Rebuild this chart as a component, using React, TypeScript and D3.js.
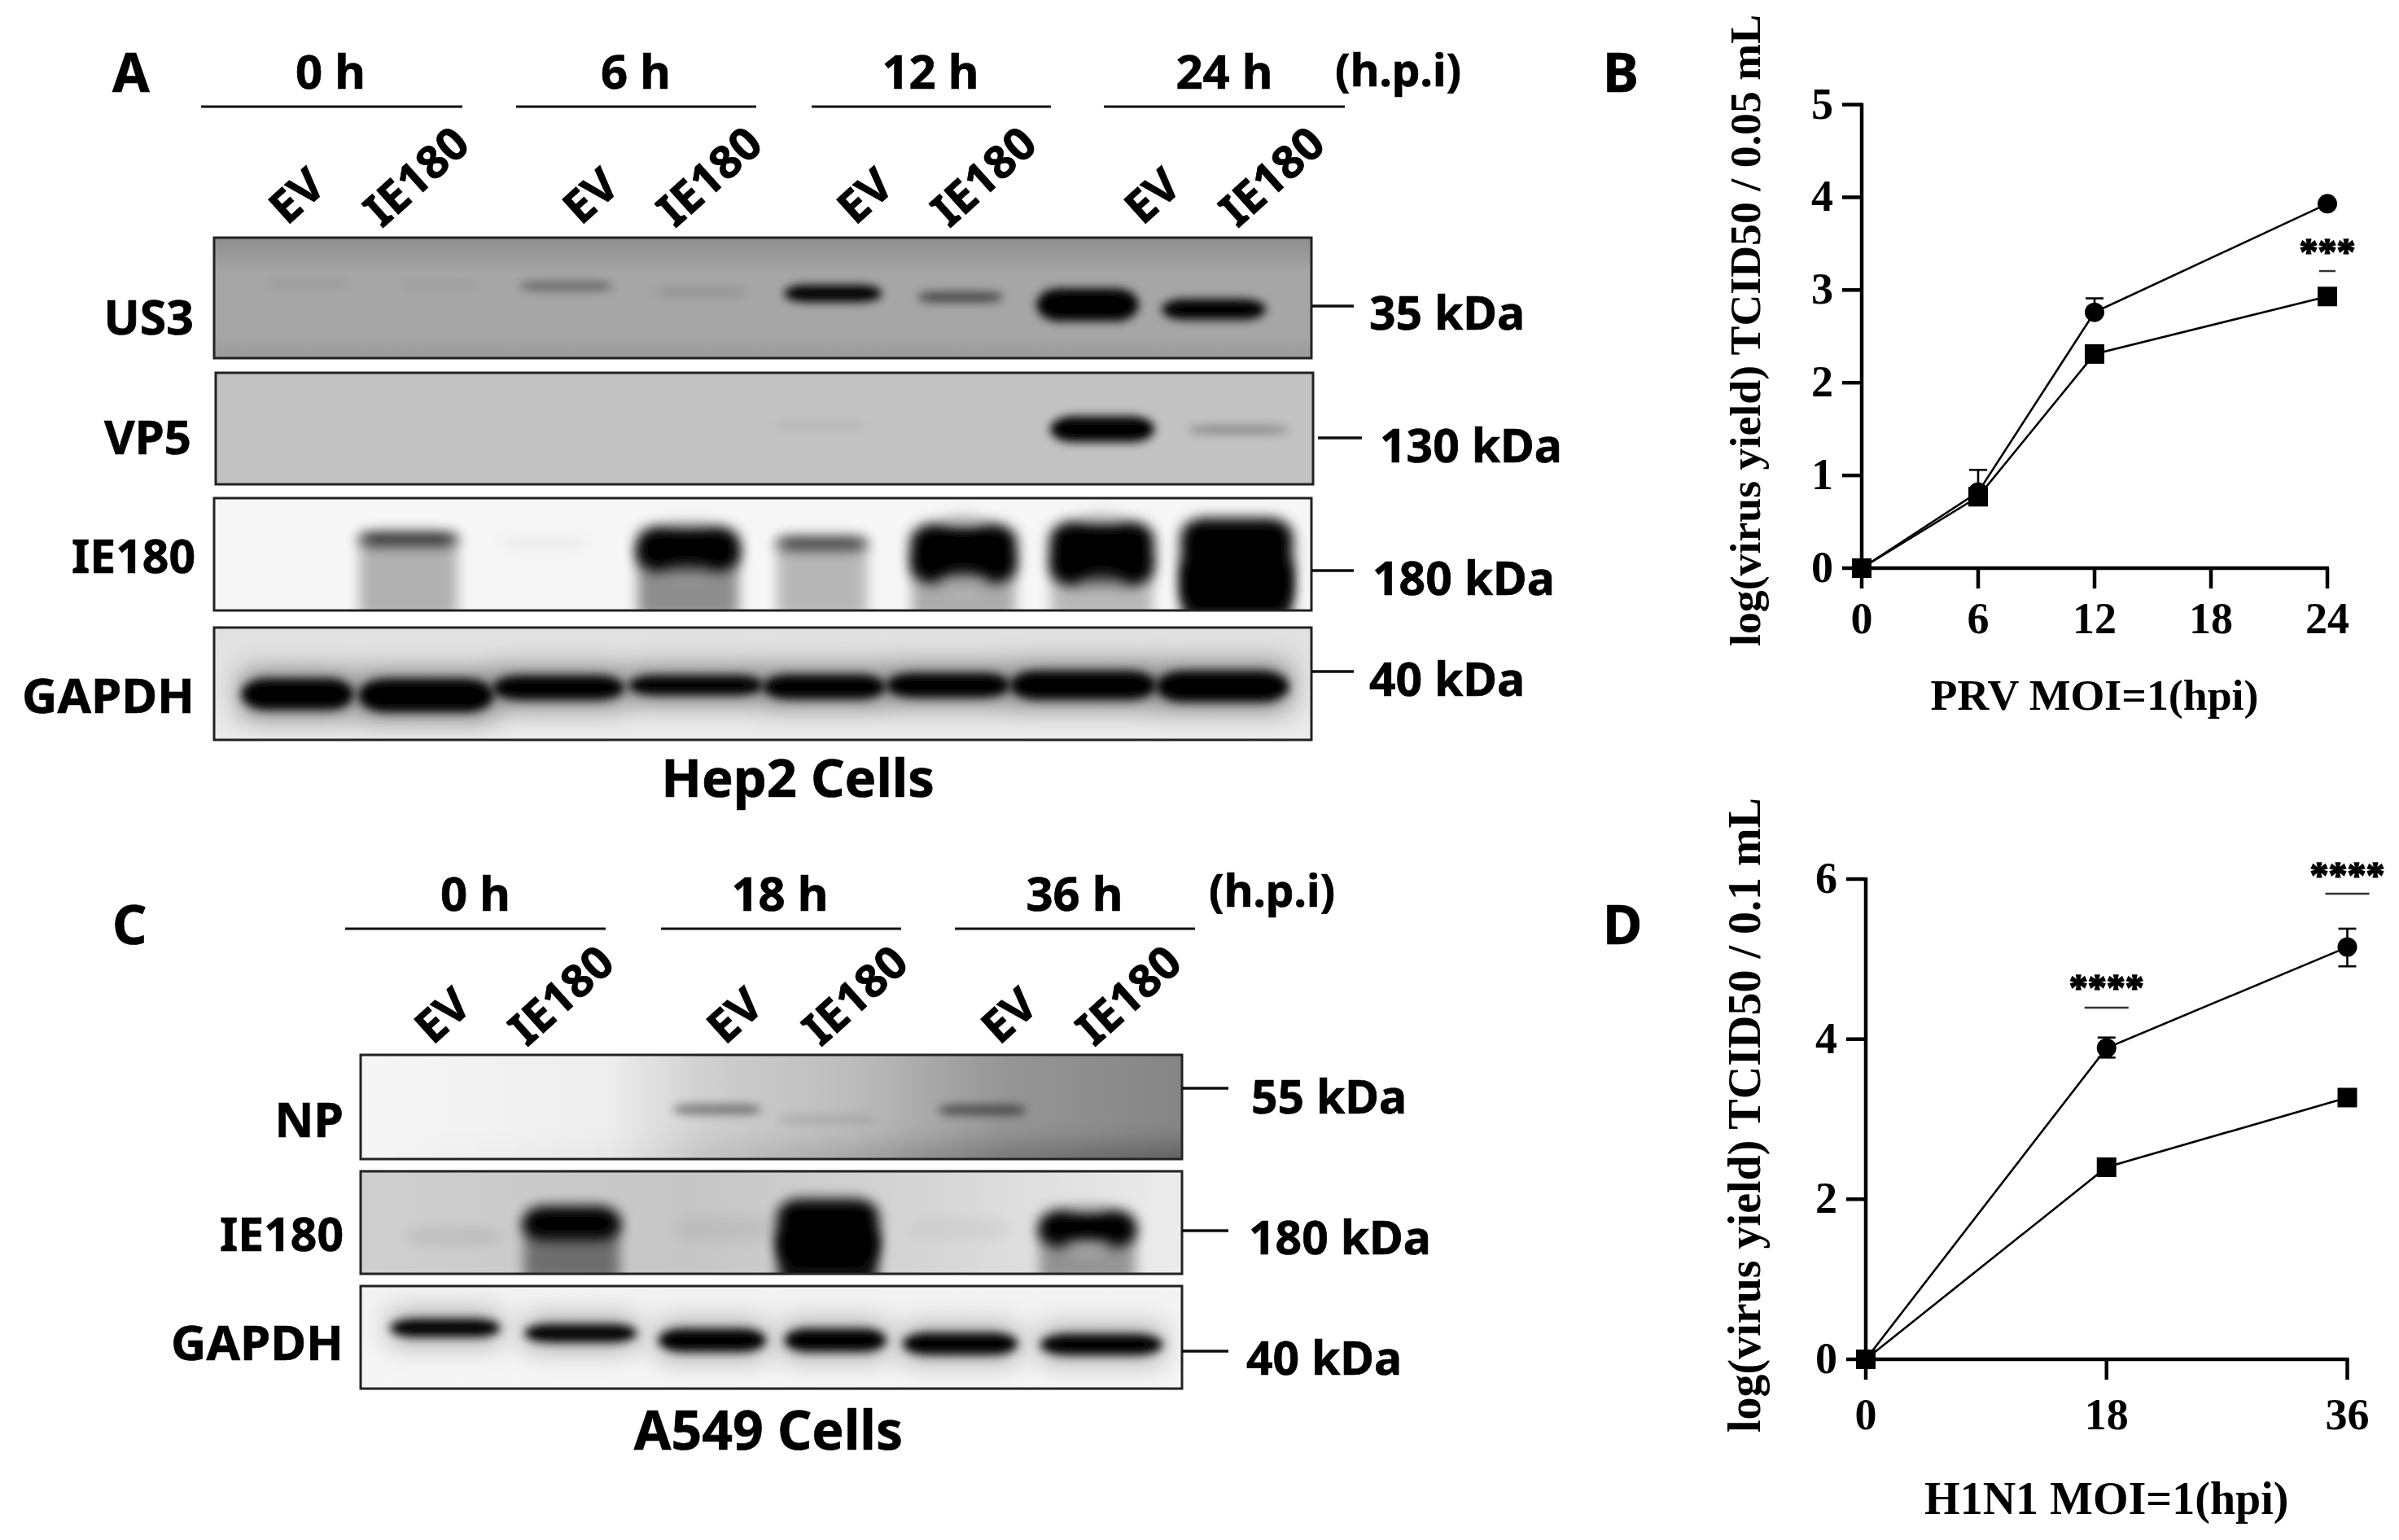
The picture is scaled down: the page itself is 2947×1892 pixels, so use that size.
import React from 'react';
import * as d3 from 'd3';

const laneNames = ['EV', 'IE180'];
const hoursA = ['0 h', '6 h', '12 h', '24 h'];
const hoursC = ['0 h', '18 h', '36 h'];
const hpiLabel = '(h.p.i)';

const us3Lane = [8.5, 20.4, 32.1, 44.4, 56.4, 68.0, 79.6, 91.1];
const us3Breadth = [7.8, 7.3, 8.5, 8.5, 8.9, 7.8, 9.3, 9.5];
const us3Migration = [38.2, 39.2, 40.2, 45.3, 46.3, 49.3, 55.7, 59.5];
const us3Thickness = [5, 5, 7, 6, 14, 8, 27, 17];
const us3Signal = [0.08, 0.06, 0.4, 0.13, 1, 0.6, 1, 1];

const vp5Lane = [55.1, 80.8, 93.2];
const vp5Breadth = [8.5, 9.5, 9.2];
const vp5Migration = [47, 50.5, 51];
const vp5Thickness = [4, 23, 7];
const vp5Signal = [0.09, 1, 0.3];

const ie180ALane = [17.7, 30.1, 43.2, 55.4, 68.3, 80.9, 93.2];
const ie180ABreadth = [9.2, 8.5, 9.5, 8.5, 9.7, 9.5, 10.2];
const ie180AMigration = [36.2, 40, 45.1, 40, 49.3, 49.3, 58.7];
const ie180AThickness = [12, 9, 40, 12, 53, 57, 82];
const ie180ASignal = [0.85, 0.05, 1, 0.75, 1, 1, 1];
const ie180ASmear = [0.28, 0, 0.42, 0.25, 0.3, 0.25, 0.95];
const ie180ANotch = [0, 0, 0.3, 0, 0.7, 0.45, 0];

const gapdhALane = [7.6, 19.3, 31.4, 43.9, 55.6, 66.9, 79.2, 91.9];
const gapdhABreadth = [10.2, 12.3, 12, 12.3, 11.2, 11.3, 13.3, 12.1];
const gapdhAMigration = [59.4, 60.5, 53.6, 51.4, 52.9, 51.4, 51.4, 52.5];
const gapdhAThickness = [27, 29, 21, 17, 21, 21, 25, 27];
const gapdhASignal = [1, 1, 1, 1, 1, 1, 1, 1];

const npLane = [43.4, 56.7, 75.7];
const npBreadth = [10.8, 12, 10.8];
const npMigration = [52.3, 62, 53];
const npThickness = [9, 9, 9];
const npSignal = [0.45, 0.1, 0.55];

const ie180CLane = [11.4, 25.7, 44.3, 56.9, 73, 88.5];
const ie180CBreadth = [11.6, 12, 12, 12.4, 12, 12];
const ie180CMigration = [63.5, 50.4, 56, 59.5, 56, 55.6];
const ie180CThickness = [16, 33, 24, 65, 19, 36];
const ie180CSignal = [0.07, 1, 0.05, 1, 0.04, 1];
const ie180CSmear = [0, 0.45, 0, 0.95, 0, 0.35];
const ie180CNotch = [0, 0, 0, 0, 0, 0.75];

const gapdhCLane = [10.3, 26.8, 42.8, 57.8, 73, 90.2];
const gapdhCBreadth = [13.4, 13.7, 13.1, 12.4, 14, 14.9];
const gapdhCMigration = [40.9, 46, 52.8, 52.8, 56.3, 57];
const gapdhCThickness = [17, 17, 22, 22, 21, 20];
const gapdhCSignal = [1, 1, 1, 1, 1, 1];

// ---------- Growth curve data
const prvHours = [0, 6, 12, 24];
const prvXTicks = [0, 6, 12, 18, 24];
const prvYTicks = [0, 1, 2, 3, 4, 5];
const prvCircle = [0, 0.82, 2.76, 3.93];
const prvCircleUpper = [0, 1.06, 2.91, 3.93];
const prvCircleLower = [0, 0.82, 2.76, 3.93];
const prvSquare = [0, 0.77, 2.31, 2.93];

const h1n1Hours = [0, 18, 36];
const h1n1XTicks = [0, 18, 36];
const h1n1YTicks = [0, 2, 4, 6];
const h1n1Circle = [0, 3.89, 5.15];
const h1n1CircleUpper = [0, 4.02, 5.38];
const h1n1CircleLower = [0, 3.77, 4.91];
const h1n1Square = [0, 2.4, 3.27];

const SANS = '"Noto Sans", sans-serif';
const SERIF = '"Liberation Serif", serif';

type Box = { x: number; y: number; w: number; h: number };

function Blot({ id, box, bg, lane, breadth, migration, thickness, signal, smear, notch, notchFill = '#e8e8e8', halo = 0, sd = 4 }: any) {
  const x = d3.scaleLinear().domain([0, 100]).range([box.x, box.x + box.w]);
  const y = d3.scaleLinear().domain([0, 100]).range([box.y, box.y + box.h]);
  const wScale = d3.scaleLinear().domain([0, 100]).range([0, box.w]);
  const hScale = d3.scaleLinear().domain([0, 100]).range([0, box.h]);
  return (
    <g>
      <clipPath id={id}>
        <rect x={box.x} y={box.y} width={box.w} height={box.h} />
      </clipPath>
      <g clipPath={`url(#${id})`}>
        {bg}
        {halo > 0 &&
          lane.map((l: number, i: number) => (
            <rect key={'h' + i} x={x(l) - wScale(breadth[i]) / 2} y={y(migration[i]) - hScale(thickness[i]) / 2 - 8}
              width={wScale(breadth[i])} height={hScale(thickness[i]) + 16} fill="#000" opacity={halo} filter="url(#blurL)" />
          ))}
        {smear &&
          lane.map((l: number, i: number) =>
            smear[i] > 0 ? (
              <rect key={'s' + i} x={x(l) - wScale(breadth[i]) / 2 + 2} y={y(migration[i])} width={wScale(breadth[i]) - 4}
                height={box.y + box.h - y(migration[i]) + 10} fill="#000" opacity={smear[i]} filter="url(#blurM)" />
            ) : null,
          )}
        {lane.map((l: number, i: number) => {
          const th = hScale(thickness[i]);
          const w = wScale(breadth[i]);
          return (
            <rect key={i} x={x(l) - w / 2} y={y(migration[i]) - th / 2} width={w} height={th}
              rx={Math.min(w * 0.22, 34)} ry={Math.min(th / 2, 22)} fill="#000" opacity={signal[i]} filter={sd > 4 ? 'url(#blurM)' : 'url(#blurS)'} />
          );
        })}
        {notch &&
          lane.map((l: number, i: number) =>
            notch[i] > 0 ? (
              <g key={'n' + i} fill={notchFill} opacity={notch[i]} filter="url(#blurM)">
                <ellipse cx={x(l)} cy={y(migration[i]) + hScale(thickness[i]) * 0.52} rx={wScale(breadth[i]) * 0.24} ry={hScale(thickness[i]) * 0.2} />
                <ellipse cx={x(l)} cy={y(migration[i]) - hScale(thickness[i]) * 0.56} rx={wScale(breadth[i]) * 0.2} ry={hScale(thickness[i]) * 0.1} />
              </g>
            ) : null,
          )}
      </g>
      <rect x={box.x} y={box.y} width={box.w} height={box.h} fill="none" stroke="#222" strokeWidth={3} />
    </g>
  );
}

function Txt({ x, y, children, anchor = 'start', size = 57, rotate }: any) {
  return (
    <text
      transform={`translate(${x},${y})${rotate !== undefined ? ` rotate(${rotate})` : ''}`}
      textAnchor={anchor}
      dominantBaseline={rotate !== undefined ? 'central' : undefined}
      fontFamily={SANS}
      fontWeight={700}
      fontSize={size}
      fill="#000"
      stroke="#000"
      strokeWidth={0.7}
    >
      {children}
    </text>
  );
}

function Curve({ xDom, xRange, yDom, yRange, xTicks, yTicks, xs, circle, upper, lower, square, yTitle, xTitle, titleX, titleY, xTitleY, tickBase, stars, titleSize = 53.8 }: any) {
  const x = d3.scaleLinear().domain(xDom).range(xRange);
  const y = d3.scaleLinear().domain(yDom).range(yRange);
  const line = d3.line<number>().x((_, i) => x(xs[i])).y((d) => y(d));
  const y0 = y(0);
  const x0 = x(0);
  return (
    <g>
      <path d={line(circle) as string} fill="none" stroke="#000" strokeWidth={2.6} />
      <path d={line(square) as string} fill="none" stroke="#000" strokeWidth={2.6} />
      {xs.map((v: number, i: number) =>
        upper[i] !== lower[i] || upper[i] !== circle[i] ? (
          <g key={'e' + i} stroke="#000" strokeWidth={2.6}>
            <line x1={x(v)} x2={x(v)} y1={y(upper[i])} y2={y(lower[i])} />
            <line x1={x(v) - 11} x2={x(v) + 11} y1={y(upper[i])} y2={y(upper[i])} />
            {lower[i] !== circle[i] && <line x1={x(v) - 11} x2={x(v) + 11} y1={y(lower[i])} y2={y(lower[i])} />}
          </g>
        ) : null,
      )}
      <line x1={x0} x2={x0} y1={y(yDom[1]) - 2} y2={y0 + 2} stroke="#000" strokeWidth={4.5} />
      <line x1={x0 - 2} x2={x(xDom[1]) + 2} y1={y0} y2={y0} stroke="#000" strokeWidth={4.5} />
      {yTicks.map((t: number) => (
        <g key={t}>
          <line x1={x0 - 24} x2={x0} y1={y(t)} y2={y(t)} stroke="#000" strokeWidth={4.5} />
          <text x={x0 - 35} y={y(t) + 17} textAnchor="end" fontFamily={SERIF} fontWeight={700} fontSize={54} fill="#000">{t}</text>
        </g>
      ))}
      {xTicks.map((t: number) => (
        <g key={t}>
          <line x1={x(t)} x2={x(t)} y1={y0} y2={y0 + 25} stroke="#000" strokeWidth={4.5} />
          <text x={x(t)} y={tickBase} textAnchor="middle" fontFamily={SERIF} fontWeight={700} fontSize={54} fill="#000">{t}</text>
        </g>
      ))}
      {circle.map((v: number, i: number) => (
        <circle key={'c' + i} cx={x(xs[i])} cy={y(v)} r={12} fill="#000" />
      ))}
      {square.map((v: number, i: number) => (
        <rect key={'q' + i} x={x(xs[i]) - 12} y={y(v) - 12} width={24} height={24} fill="#000" />
      ))}
      {stars.map((s: any, i: number) => (
        <g key={'st' + i}>
          <text x={x(s.at)} y={s.base} textAnchor="middle" fontFamily={SERIF} fontWeight={700} fontSize={46} fill="#000" stroke="#000" strokeWidth={1.6}>{s.text}</text>
          <line x1={x(s.at) - s.half} x2={x(s.at) + s.half} y1={s.dash} y2={s.dash} stroke="#333" strokeWidth={2.5} />
        </g>
      ))}
      <text transform={`translate(${titleX},${titleY}) rotate(-90)`} textAnchor="middle" fontFamily={SERIF} fontWeight={700} fontSize={titleSize} fill="#000">{yTitle}</text>
      <text x={(xRange[0] + xRange[1]) / 2} y={xTitleY} textAnchor="middle" fontFamily={SERIF} fontWeight={700} fontSize={titleSize} fill="#000">{xTitle}</text>
    </g>
  );
}

function Grad({ id, stops, horizontal = false }: any) {
  return (
    <linearGradient id={id} x1="0" y1="0" x2={horizontal ? 1 : 0} y2={horizontal ? 0 : 1}>
      {stops.map((s: any, i: number) => (
        <stop key={i} offset={s[0]} stopColor={s[1]} stopOpacity={s[2] ?? 1} />
      ))}
    </linearGradient>
  );
}

export default function App() {
  const boxUS3: Box = { x: 263, y: 292, w: 1348, h: 148 };
  const boxVP5: Box = { x: 265, y: 458, w: 1348, h: 137 };
  const boxIEA: Box = { x: 263, y: 612, w: 1348, h: 138 };
  const boxGA: Box = { x: 263, y: 771, w: 1348, h: 138 };
  const boxNP: Box = { x: 443, y: 1296, w: 1009, h: 128 };
  const boxIEC: Box = { x: 443, y: 1439, w: 1009, h: 126 };
  const boxGC: Box = { x: 443, y: 1580, w: 1009, h: 126 };
  const fill = (b: Box, f: string) => <rect x={b.x} y={b.y} width={b.w} height={b.h} fill={f} />;

  const groupLines = [
    [247, 568, 131], [634, 929, 131], [997, 1291, 131], [1356, 1652, 131],
    [424, 744, 1141], [812, 1107, 1141], [1173, 1468, 1141],
  ];
  const hourXA = [406, 781, 1143, 1504];
  const hourXC = [584, 958, 1320];
  const evA = [363, 724, 1061, 1414];
  const ieA = [510, 870, 1207, 1561];
  const evC = [542, 901, 1238];
  const ieC = [688, 1049, 1385];
  const kda = [
    { t: '35 kDa', x1: 1612, x2: 1663, y: 376, tx: 1682, ty: 405 },
    { t: '130 kDa', x1: 1619, x2: 1673, y: 538, tx: 1695, ty: 568 },
    { t: '180 kDa', x1: 1612, x2: 1663, y: 701, tx: 1686, ty: 731 },
    { t: '40 kDa', x1: 1612, x2: 1663, y: 825, tx: 1682, ty: 855 },
    { t: '55 kDa', x1: 1452, x2: 1509, y: 1337, tx: 1537, ty: 1368 },
    { t: '180 kDa', x1: 1452, x2: 1509, y: 1512, tx: 1534, ty: 1541 },
    { t: '40 kDa', x1: 1452, x2: 1509, y: 1660, tx: 1531, ty: 1689 },
  ];

  return (
    <svg width={2947} height={1892} viewBox="0 0 2947 1892" style={{ position: 'absolute', left: 0, top: 0, display: 'block', background: '#fff' }}>
      <defs>
        <filter id="blurS" x="-30%" y="-200%" width="160%" height="500%"><feGaussianBlur stdDeviation={6} /></filter>
        <filter id="blurM" x="-30%" y="-100%" width="160%" height="300%"><feGaussianBlur stdDeviation={8} /></filter>
        <filter id="blurL" x="-50%" y="-200%" width="200%" height="500%"><feGaussianBlur stdDeviation={17} /></filter>
        <filter id="blurNP" x="-10%" y="-150%" width="120%" height="400%"><feGaussianBlur stdDeviation={14} /></filter>
        <filter id="soft" filterUnits="userSpaceOnUse" x={0} y={0} width={2947} height={1892}><feGaussianBlur stdDeviation={0.7} /></filter>
        <Grad id="gUS3" stops={[[0, '#8e8e8e'], [0.3, '#a6a6a6'], [0.8, '#a6a6a6'], [1, '#9a9a9a']]} />
        <Grad id="gGA" stops={[[0, '#e0e0e0'], [1, '#ececec']]} />
        <Grad id="gNP" horizontal stops={[[0, '#f6f6f6'], [0.3, '#eeeeee'], [0.42, '#cfcfcf'], [0.6, '#bcbcbc'], [0.78, '#969696'], [1, '#858585']]} />
        <Grad id="gNPb" horizontal stops={[[0, '#000', 0], [0.35, '#000', 0.03], [1, '#000', 0.28]]} />
        <Grad id="gIEC" horizontal stops={[[0, '#cfcfcf'], [0.4, '#c6c6c6'], [0.7, '#d6d6d6'], [1, '#ececec']]} />
        <Grad id="gGC" stops={[[0, '#f2f2f2'], [1, '#f6f6f6']]} />
      </defs>
      <g filter="url(#soft)">
        {/* Panel A */}
        <Blot id="cUS3" box={boxUS3} bg={fill(boxUS3, 'url(#gUS3)')} lane={us3Lane} breadth={us3Breadth} migration={us3Migration} thickness={us3Thickness} signal={us3Signal} />
        <Blot id="cVP5" box={boxVP5} bg={fill(boxVP5, '#c2c2c2')} lane={vp5Lane} breadth={vp5Breadth} migration={vp5Migration} thickness={vp5Thickness} signal={vp5Signal} />
        <Blot id="cIEA" box={boxIEA} bg={fill(boxIEA, '#f6f6f6')} lane={ie180ALane} breadth={ie180ABreadth} migration={ie180AMigration} thickness={ie180AThickness} signal={ie180ASignal} smear={ie180ASmear} notch={ie180ANotch} notchFill="#bdbdbd" sd={7} />
        <Blot id="cGA" box={boxGA} bg={fill(boxGA, 'url(#gGA)')} lane={gapdhALane} breadth={gapdhABreadth} migration={gapdhAMigration} thickness={gapdhAThickness} signal={gapdhASignal} halo={0.5} />
        {/* Panel C */}
        <Blot id="cNP" box={boxNP} bg={<g>{fill(boxNP, 'url(#gNP)')}<rect x={boxNP.x - 30} y={boxNP.y + boxNP.h * 0.85} width={boxNP.w + 60} height={boxNP.h * 0.4} fill="url(#gNPb)" filter="url(#blurNP)" /></g>} lane={npLane} breadth={npBreadth} migration={npMigration} thickness={npThickness} signal={npSignal} />
        <Blot id="cIEC" box={boxIEC} bg={fill(boxIEC, 'url(#gIEC)')} lane={ie180CLane} breadth={ie180CBreadth} migration={ie180CMigration} thickness={ie180CThickness} signal={ie180CSignal} smear={ie180CSmear} notch={ie180CNotch} notchFill="#c8c8c8" sd={7} />
        <Blot id="cGC" box={boxGC} bg={fill(boxGC, 'url(#gGC)')} lane={gapdhCLane} breadth={gapdhCBreadth} migration={gapdhCMigration} thickness={gapdhCThickness} signal={gapdhCSignal} halo={0.33} />

        {groupLines.map((l, i) => (
          <line key={i} x1={l[0]} x2={l[1]} y1={l[2]} y2={l[2]} stroke="#111" strokeWidth={3} />
        ))}
        {hoursA.map((t, i) => <Txt key={t} x={hourXA[i]} y={109} anchor="middle" size={58}>{t}</Txt>)}
        {hoursC.map((t, i) => <Txt key={t} x={hourXC[i]} y={1119} anchor="middle" size={58}>{t}</Txt>)}
        <Txt x={1640} y={106} size={55}>{hpiLabel}</Txt>
        <Txt x={1485} y={1114} size={55}>{hpiLabel}</Txt>
        {evA.map((x, i) => <Txt key={'ea' + i} x={x} y={239} anchor="middle" rotate={-42} size={56}>{laneNames[0]}</Txt>)}
        {ieA.map((x, i) => <Txt key={'ia' + i} x={x} y={215} anchor="middle" rotate={-42} size={56}>{laneNames[1]}</Txt>)}
        {evC.map((x, i) => <Txt key={'ec' + i} x={x} y={1246} anchor="middle" rotate={-42} size={56}>{laneNames[0]}</Txt>)}
        {ieC.map((x, i) => <Txt key={'ic' + i} x={x} y={1221} anchor="middle" rotate={-42} size={56}>{laneNames[1]}</Txt>)}

        <Txt x={238} y={411} anchor="end" size={59}>US3</Txt>
        <Txt x={235} y={558} anchor="end" size={58}>VP5</Txt>
        <Txt x={240} y={704} anchor="end">IE180</Txt>
        <Txt x={239} y={876} anchor="end" size={60}>GAPDH</Txt>
        <Txt x={422} y={1397} anchor="end" size={59}>NP</Txt>
        <Txt x={422} y={1537} anchor="end">IE180</Txt>
        <Txt x={422} y={1671} anchor="end" size={60}>GAPDH</Txt>

        {kda.map((k, i) => (
          <g key={i}>
            <line x1={k.x1} x2={k.x2} y1={k.y} y2={k.y} stroke="#111" strokeWidth={3.5} />
            <Txt x={k.tx} y={k.ty}>{k.t}</Txt>
          </g>
        ))}

        <Txt x={980} y={979} anchor="middle" size={65}>Hep2 Cells</Txt>
        <Txt x={944} y={1781} anchor="middle" size={66}>A549 Cells</Txt>

        <Txt x={138} y={113} size={66}>A</Txt>
        <Txt x={1969} y={113} size={66}>B</Txt>
        <Txt x={138} y={1160} size={66}>C</Txt>
        <Txt x={1969} y={1160} size={66}>D</Txt>

        <Curve
          xDom={[0, 24]} xRange={[2287, 2859]} yDom={[0, 5]} yRange={[698, 128.5]}
          xTicks={prvXTicks} yTicks={prvYTicks} xs={prvHours}
          circle={prvCircle} upper={prvCircleUpper} lower={prvCircleLower} square={prvSquare}
          yTitle="log(virus yield) TCID50 / 0.05 mL" xTitle="PRV MOI=1(hpi)"
          titleX={2162} titleY={406} xTitleY={872} tickBase={778}
          stars={[{ at: 24, text: '***', base: 325, dash: 333, half: 10 }]}
        />
        <Curve
          xDom={[0, 36]} xRange={[2292, 2883.5]} yDom={[0, 6]} yRange={[1670, 1080]}
          xTicks={h1n1XTicks} yTicks={h1n1YTicks} xs={h1n1Hours}
          circle={h1n1Circle} upper={h1n1CircleUpper} lower={h1n1CircleLower} square={h1n1Square}
          yTitle="log(virus yield) TCID50 / 0.1 mL" xTitle="H1N1 MOI=1(hpi)"
          titleX={2162} titleY={1370} xTitleY={1860} tickBase={1756} titleSize={56}
          stars={[
            { at: 18, text: '****', base: 1229, dash: 1238, half: 27 },
            { at: 36, text: '****', base: 1091, dash: 1098, half: 27 },
          ]}
        />
      </g>
    </svg>
  );
}
